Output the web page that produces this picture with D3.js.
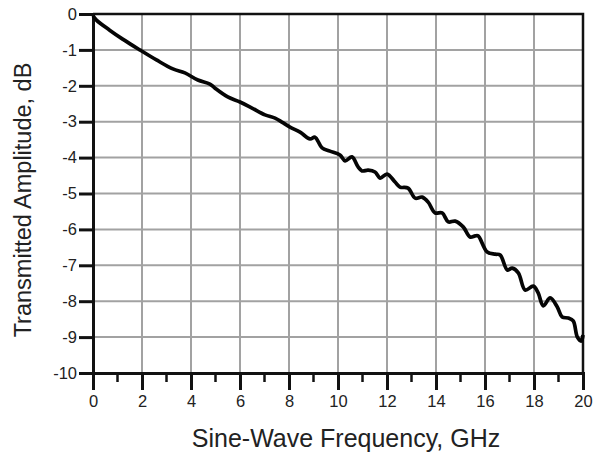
<!DOCTYPE html>
<html>
<head>
<meta charset="utf-8">
<script src="https://cdn.jsdelivr.net/npm/d3@7"></script>
<style>
  body { margin: 0; background: #fff; }
  text { font-family: "Liberation Sans", Arial, sans-serif; fill: #222; }
</style>
</head>
<body>
<svg id="chart" width="594" height="455"></svg>
<script>
// frequency in GHz, transmitted amplitude in dB
let freq = [0, 0.14, 0.68, 1.21, 1.91, 2.59, 3.26, 3.75, 4.28, 4.77, 4.97, 5.5, 6.0, 6.49, 7.02, 7.43, 7.71,
    8.04, 8.45, 8.86, 9.06, 9.35, 9.67, 10.08, 10.29, 10.57, 10.82, 10.98, 11.23, 11.51, 11.72, 12.0,
    12.33, 12.53, 12.86, 13.15, 13.43, 13.68, 13.96, 14.25, 14.5, 14.78, 15.11, 15.39, 15.6, 15.72,
    16.09, 16.42, 16.62, 16.91, 17.11, 17.36, 17.64, 17.97, 18.17, 18.38, 18.66, 18.95, 19.15, 19.4,
    19.6, 19.77, 19.93, 20.0];
let amp = [-0.05, -0.17, -0.45, -0.7, -1.0, -1.28, -1.53, -1.64, -1.84, -1.95, -2.06, -2.31, -2.45, -2.62, -2.81, -2.9, -3.01,
    -3.15, -3.29, -3.48, -3.43, -3.73, -3.82, -3.93, -4.09, -3.98, -4.26, -4.37, -4.35, -4.4, -4.57, -4.46,
    -4.68, -4.82, -4.85, -5.13, -5.1, -5.24, -5.54, -5.54, -5.79, -5.77, -5.93, -6.21, -6.18, -6.18,
    -6.63, -6.69, -6.71, -7.13, -7.08, -7.21, -7.69, -7.58, -7.77, -8.13, -7.91, -8.16, -8.44, -8.47,
    -8.55, -9.0, -9.11, -8.94];
let xTicks = [0, 2, 4, 6, 8, 10, 12, 14, 16, 18, 20];
let xMinor = [1, 3, 5, 7, 9, 11, 13, 15, 17, 19];
let yTicks = [0, -1, -2, -3, -4, -5, -6, -7, -8, -9, -10];

let svg = d3.select("#chart");
let padding = { top: 14, right: 11, bottom: 82, left: 93 };
let width = +svg.attr("width");
let height = +svg.attr("height");

let xScale = d3.scaleLinear()
    .domain([0, 20])
    .range([padding.left, width - padding.right]);
let yScale = d3.scaleLinear()
    .domain([-10, 0])
    .range([height - padding.bottom, padding.top]);

// grid
svg.append("g")
    .selectAll("line")
    .data(xTicks.slice(1, -1))
    .enter()
    .append("line")
      .attr("x1", d => xScale(d)).attr("x2", d => xScale(d))
      .attr("y1", yScale(0)).attr("y2", yScale(-10))
      .attr("stroke", "#a2a2a2").attr("stroke-width", 2);
svg.append("g")
    .selectAll("line")
    .data(yTicks.slice(1, -1))
    .enter()
    .append("line")
      .attr("x1", xScale(0)).attr("x2", xScale(20))
      .attr("y1", d => yScale(d)).attr("y2", d => yScale(d))
      .attr("stroke", "#a2a2a2").attr("stroke-width", 2);

// frame top + right
svg.append("path")
    .attr("d", "M" + xScale(0) + "," + yScale(0) + "H" + xScale(20) + "V" + yScale(-10))
    .attr("fill", "none")
    .attr("stroke", "#111")
    .attr("stroke-width", 2.5);

// y axis
let yAxis = d3.axisLeft(yScale)
    .tickValues(yTicks)
    .tickFormat(d => String(d))
    .tickSize(14)
    .tickPadding(2);
let gy = svg.append("g")
    .attr("transform", "translate(" + xScale(0) + ",0)")
    .call(yAxis);
gy.select(".domain").attr("stroke", "#111").attr("stroke-width", 3);
gy.selectAll(".tick line").attr("stroke", "#111").attr("stroke-width", 3);
gy.selectAll(".tick").filter(d => d === 0).select("line").remove();
gy.selectAll(".tick text").style("font-size", "16.5px").attr("fill", "#222");

// x axis
let xAxis = d3.axisBottom(xScale)
    .tickValues(xTicks)
    .tickSize(17)
    .tickPadding(5);
let gx = svg.append("g")
    .attr("transform", "translate(0," + yScale(-10) + ")")
    .call(xAxis);
gx.select(".domain").attr("stroke", "#111").attr("stroke-width", 3);
gx.selectAll(".tick line").attr("stroke", "#111").attr("stroke-width", 3);
gx.selectAll(".tick").filter(d => d === 20).select("line").remove();
gx.selectAll(".tick text").style("font-size", "16.5px").attr("fill", "#222");

svg.append("g")
    .selectAll("line")
    .data(xMinor)
    .enter()
    .append("line")
      .attr("x1", d => xScale(d)).attr("x2", d => xScale(d))
      .attr("y1", yScale(-10) + 2).attr("y2", yScale(-10) + 9)
      .attr("stroke", "#111").attr("stroke-width", 2.5);

// curve
let data = freq.map((f, i) => ({ f: f, a: amp[i] }));
let line = d3.line()
    .x(d => xScale(d.f))
    .y(d => yScale(d.a))
    .curve(d3.curveCatmullRom);
svg.append("path")
    .datum(data)
    .attr("d", line)
    .attr("fill", "none")
    .attr("stroke", "#050505")
    .attr("stroke-width", 3.7)
    .attr("stroke-linejoin", "round");

// labels
svg.append("text")
    .attr("x", 346)
    .attr("y", 447)
    .style("text-anchor", "middle")
    .style("font-size", "25px")
    .text("Sine-Wave Frequency, GHz");
svg.append("text")
    .attr("transform", "rotate(-90)")
    .attr("x", -200)
    .attr("y", 31)
    .style("text-anchor", "middle")
    .style("font-size", "23.5px")
    .text("Transmitted Amplitude, dB");
</script>
</body>
</html>
